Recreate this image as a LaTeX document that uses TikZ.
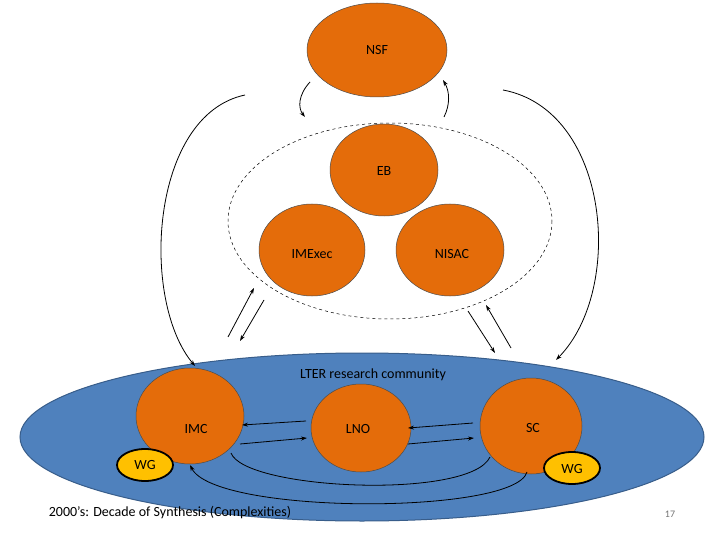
\documentclass[tikz,border=0pt]{standalone}
\usepackage{fontspec}
\setmainfont{Carlito}
\usetikzlibrary{arrows.meta}
\definecolor{org}{HTML}{E46C0A}
\definecolor{blu}{HTML}{4F81BD}
\definecolor{blb}{HTML}{385D8A}
\definecolor{gld}{HTML}{FFC000}
\begin{document}
\begin{tikzpicture}[x=1pt,y=-1pt,font=\fontsize{14}{16}\selectfont,
  orb/.style={ellipse shape},
  arr/.style={-{Stealth[length=6pt,width=4pt]},line width=0.8pt},
  lbl/.style={inner sep=0pt}]
\useasboundingbox (0,0) rectangle (720,540);
% background shapes
\fill[blu,draw=blb,line width=1pt] (362,437) ellipse [x radius=342,y radius=84];
\draw[dashed,line width=0.5pt] (390,221) ellipse [x radius=162,y radius=98];
\tikzset{oe/.style={fill=org,draw=black!70,line width=0.5pt}}
\draw[oe] (377,50) ellipse [x radius=70,y radius=47];
\draw[oe] (384,170) ellipse [x radius=54,y radius=46];
\draw[oe] (312,250) ellipse [x radius=53,y radius=46];
\draw[oe] (450,250) ellipse [x radius=54,y radius=46];
\draw[oe] (190,416) ellipse [x radius=54,y radius=48];
\draw[oe] (361,428) ellipse [x radius=50,y radius=44];
\draw[oe] (531,426) ellipse [x radius=51,y radius=48];
\draw[fill=gld,line width=1.8pt] (145,465) ellipse [x radius=28,y radius=16];
\draw[fill=gld,line width=1.8pt] (572,468) ellipse [x radius=28,y radius=16];
% labels
\node[lbl] (nsf) at (377,50) {NSF};
\node[lbl] (eb) at (384,171) {EB};
\node[lbl] (ime) at (312,254) {IMExec};
\node[lbl] (nis) at (452,254) {NISAC};
\node[lbl] (imc) at (196,429) {IMC};
\node[lbl] (lno) at (358,429) {LNO};
\node[lbl] (sc) at (533,428) {SC};
\node[lbl] (wg1) at (145,465) {WG};
\node[lbl] (wg2) at (572,469) {WG};
\node[lbl] (lter) at (373,375) {LTER research community};
\node[lbl] (dec) at (170,513) {2000’s: Decade of Synthesis (Complexities)};
\node[lbl,text=black!55,font=\fontsize{10}{12}\selectfont] (pg) at (670,514) {17};
% coordinates
\coordinate (a1) at (245,95); \coordinate (a2) at (195,366);
\coordinate (b1) at (503,90); \coordinate (b2) at (556,360);
\coordinate (c1) at (310,82); \coordinate (c2) at (305,117);
\coordinate (d1) at (444,117); \coordinate (d2) at (443,80);
\coordinate (e1) at (228,337); \coordinate (e2) at (254,288);
\coordinate (f1) at (264,300); \coordinate (f2) at (240,341);
\coordinate (g1) at (468,311); \coordinate (g2) at (495,353);
\coordinate (h1) at (511,348); \coordinate (h2) at (486,305);
\coordinate (i1) at (306,421); \coordinate (i2) at (242,425);
\coordinate (j1) at (240,444); \coordinate (j2) at (307,438);
\coordinate (k1) at (473,423); \coordinate (k2) at (408,428);
\coordinate (l1) at (408,444); \coordinate (l2) at (474,438);
\coordinate (m1) at (231,453); \coordinate (m2) at (490,457);
\coordinate (n1) at (527,472); \coordinate (n2) at (190,465);
% connectors
\draw[arr] (a1) .. controls (150,115) and (140,300) .. (a2);
\draw[arr] (b1) .. controls (610,110) and (625,290) .. (b2);
\draw[arr] (c1) .. controls (298,95) and (298,108) .. (c2);
\draw[arr] (d1) .. controls (450,105) and (450,92) .. (d2);
\draw[arr] (e1) -- (e2);
\draw[arr] (f1) -- (f2);
\draw[arr] (g1) -- (g2);
\draw[arr] (h1) -- (h2);
\draw[arr] (i1) -- (i2);
\draw[arr] (j1) -- (j2);
\draw[arr] (k1) -- (k2);
\draw[arr] (l1) -- (l2);
\draw[line width=0.8pt] (m1) .. controls (245,490) and (470,500) .. (m2);
\draw[arr] (n1) .. controls (515,515) and (215,515) .. (n2);
\end{tikzpicture}
\end{document}
